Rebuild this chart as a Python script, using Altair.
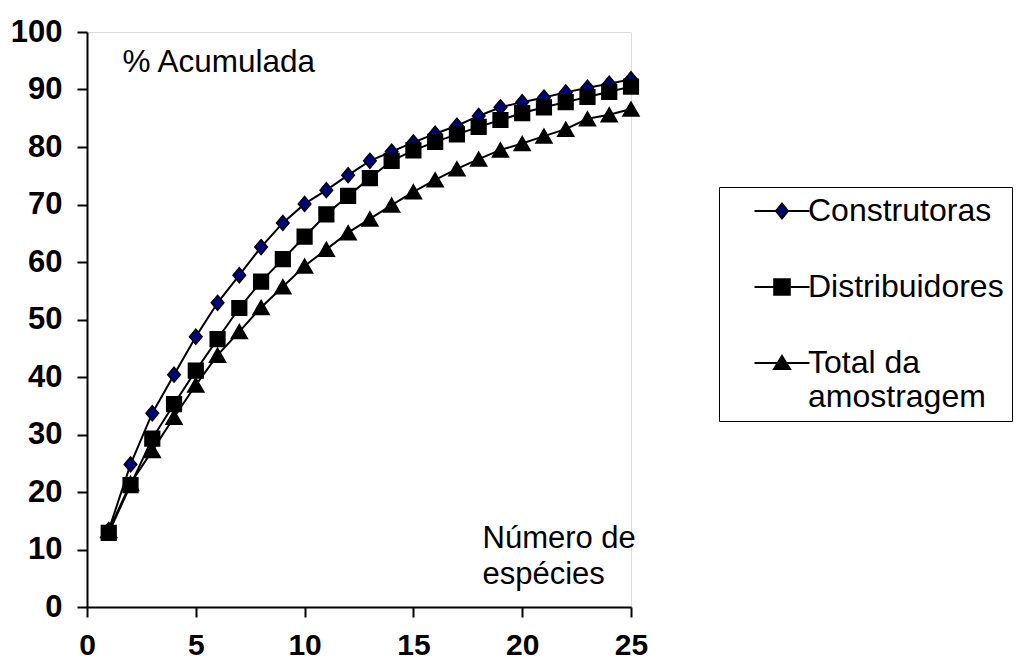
import altair as alt
import pandas as pd

especies = list(range(1, 26))
construtoras = [13.4, 24.8, 33.7, 40.4, 47.0, 52.9, 57.7, 62.6, 66.8, 70.1, 72.5, 75.1, 77.6, 79.2, 80.8,
                82.3, 83.7, 85.4, 86.9, 87.8, 88.6, 89.5, 90.3, 91.0, 91.8]
distribuidores = [12.9, 21.2, 29.3, 35.3, 41.1, 46.6, 52.0, 56.6, 60.5, 64.4, 68.3, 71.5, 74.6, 77.6, 79.4,
                  80.9, 82.2, 83.5, 84.7, 85.9, 86.9, 87.8, 88.7, 89.6, 90.5]
total = [13.3, 21.5, 27.2, 33.0, 38.6, 43.8, 47.9, 52.1, 55.7, 59.3, 62.2, 65.1, 67.5, 69.9, 72.2,
         74.3, 76.2, 77.9, 79.5, 80.6, 81.9, 83.1, 84.9, 85.6, 86.6]

series_names = ["Construtoras", "Distribuidores", "Total da amostragem"]
series_fill = ["#000080", "#000000", "#000000"]
series_stroke = ["#000000", "#000000", "#000000"]
x_ticks = [0, 5, 10, 15, 20, 25]
y_ticks = [0, 10, 20, 30, 40, 50, 60, 70, 80, 90, 100]

FONT = "Liberation Sans"

rows = []
for name, vals in zip(series_names, [construtoras, distribuidores, total]):
    for xv, yv in zip(especies, vals):
        rows.append({"x": xv, "y": yv, "series": name})
df = pd.DataFrame(rows)

plot_shapes = {
    "Construtoras": "M0,-1.07L0.9,0L0,1.07L-0.9,0Z",
    "Distribuidores": "M-1.05,-1.05H1.05V1.05H-1.05Z",
    "Total da amostragem": "M0,-1L1.15,1H-1.15Z",
}
legend_shapes = [
    "M-2.75,0H-0.6M0.6,0H2.75M0,-0.75L0.6,0L0,0.75L-0.6,0Z",
    "M-2.75,0H-0.78M0.78,0H2.75M-0.78,-0.78H0.78V0.78H-0.78Z",
    "M-2.75,0H-0.43M0.43,0H2.75M0,-0.7L0.8,0.6H-0.8Z",
]

x_enc = alt.X("x:Q", scale=alt.Scale(domain=[0, 25], nice=False),
              axis=alt.Axis(values=x_ticks, title=["Número de", "espécies"],
                            titleX=395, titleY=-60, titleAlign="left", titleBaseline="alphabetic",
                            titleLineHeight=36, titleFontSize=31, titleFontWeight="normal",
                            titleFont=FONT, titleColor="black",
                            labelFlush=False, labelOverlap=False, labelPadding=13,
                            labelFontSize=30, labelFontWeight="bold", labelFont=FONT,
                            labelColor="black", tickSize=10, tickWidth=2, tickColor="black",
                            domainColor="black", domainWidth=2, grid=False))
y_enc = alt.Y("y:Q", scale=alt.Scale(domain=[0, 100], nice=False),
              axis=alt.Axis(values=y_ticks, title="% Acumulada",
                            titleX=35, titleY=39, titleAngle=0, titleAlign="left",
                            titleBaseline="alphabetic", titleFontSize=31.5, titleFontWeight="normal",
                            titleFont=FONT, titleColor="black",
                            labelPadding=15, labelFontSize=31, labelFontWeight="bold",
                            labelFont=FONT, labelColor="black", labelOverlap=False,
                            tickSize=10, tickWidth=2, tickColor="black",
                            domainColor="black", domainWidth=2, grid=False))

base = alt.Chart(df)

lines = base.mark_line(color="black", strokeWidth=2).encode(
    x=x_enc, y=y_enc, detail="series:N", order="x:Q"
)

# marker layers, drawn so that squares end up on top
marker_layers = []
for name in ["Construtoras", "Total da amostragem", "Distribuidores"]:
    fill = series_fill[series_names.index(name)]
    marker_layers.append(
        base.transform_filter(alt.datum.series == name).mark_point(
            shape=plot_shapes[name], filled=True, fill=fill, size=196,
            stroke="black", strokeWidth=1.5, opacity=1
        ).encode(x=x_enc, y=y_enc)
    )

NBSP = "\u00a0" * 8
leg = alt.Legend(
    title=None, orient="none", legendX=632, legendY=155,
    labelFont=FONT, labelFontSize=32, labelColor="black", labelLimit=600,
    labelOffset=10, symbolOffset=39, symbolSize=400, rowPadding=44, padding=8,
    strokeColor="black", fillColor="white",
    symbolStrokeWidth=2, symbolOpacity=1,
    labelExpr=("datum.label == 'Total da amostragem' ? ['Total da', 'amostragem'] "
               ": datum.label + '" + NBSP + "'"),
)

legend_layer = base.transform_filter("false").mark_point(
    strokeWidth=2, opacity=1
).encode(
    x=x_enc, y=y_enc,
    fill=alt.Fill("series:N", scale=alt.Scale(domain=series_names, range=series_fill), legend=leg),
    stroke=alt.Stroke("series:N", scale=alt.Scale(domain=series_names, range=series_stroke), legend=leg),
    shape=alt.Shape("series:N", scale=alt.Scale(domain=series_names, range=legend_shapes), legend=leg),
)

chart = alt.layer(lines, *marker_layers, legend_layer).properties(
    width=544, height=575,
    autosize=alt.AutoSizeParams(type="none"),
    padding={"left": 79, "top": 24, "right": 385, "bottom": 54},
).configure_view(stroke=None).configure(background="white")

chart.save("out.html", embed_options={"renderer": "svg", "actions": False})
